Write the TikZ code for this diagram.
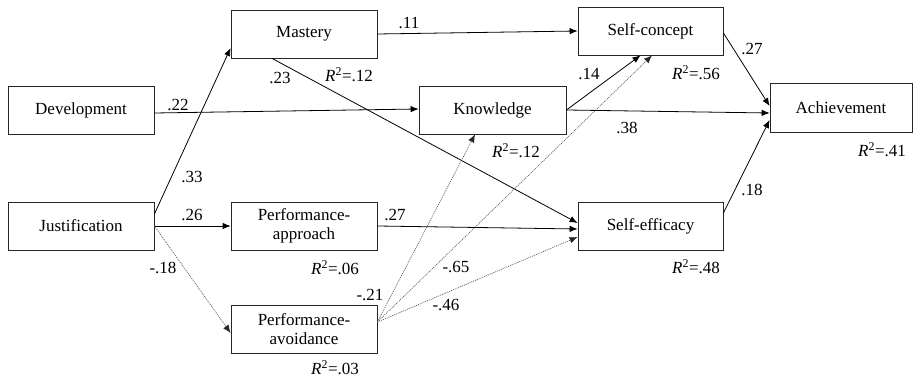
\documentclass[tikz,border=0pt]{standalone}
\usepackage{fontspec}
\setmainfont{Liberation Serif}
\usetikzlibrary{arrows.meta}
\begin{document}
\begin{tikzpicture}[x=1pt,y=-1pt,
  box/.style={draw=black!85, line width=0.8pt, minimum width=146pt, minimum height=48pt, inner sep=0pt, align=center, font=\fontsize{17}{19}\selectfont},
  lbl/.style={font=\fontsize{17}{19}\selectfont, inner sep=0pt},
  path/.style={line width=0.8pt, -{Latex[length=8pt,width=6.5pt]}},
  weak/.style={line width=0.7pt, draw=black!65, dash pattern=on 1pt off 1pt, -{Latex[length=8pt,width=6.5pt,color=black!85]}}]
\useasboundingbox (0,0) rectangle (913,379);
\node[box] (mas) at (304,34) {Mastery};
\node[box] (dev) at (81,110) {Development};
\node[box, minimum width=147pt] (kn) at (492.5,110) {Knowledge};
\node[box, minimum width=145pt] (sc) at (650.5,31) {Self-concept};
\node[box, minimum width=142pt, minimum height=49pt] (ach) at (841,107.5) {Achievement};
\node[box] (jus) at (81,226) {Justification};
\node[box] (pa) at (304,226) {Performance-\\approach};
\node[box] (pv) at (304,329) {Performance-\\avoidance};
\node[box, minimum width=145pt] (se) at (650.5,226) {Self-efficacy};
% solid paths
\draw[path] (mas.east) -- (sc.west);
\draw[path] ([xshift=-32pt]mas.south) -- ([yshift=3pt]se.west);
\draw[path] ([yshift=-3pt]dev.east) -- ([yshift=1pt]kn.west);
\draw[path] ([yshift=12pt]jus.east) -- ([yshift=-14pt]mas.west);
\draw[path] (jus.east) -- (pa.west);
\draw[path] (kn.east) -- ([xshift=-10pt]sc.south);
\draw[path] (kn.east) -- ([yshift=-5.5pt]ach.west);
\draw[path] ([yshift=-2pt]sc.east) -- ([yshift=1.5pt]ach.west);
\draw[path] ([yshift=13pt]se.east) -- ([yshift=-12.5pt]ach.west);
\draw[path] (pa.east) -- ([yshift=-3pt]se.west);
% dotted paths
\draw[weak] (jus.east) -- ([yshift=-4pt]pv.west);
\draw[weak] ([yshift=7pt]pv.east) -- ([xshift=-17.5pt]kn.south);
\draw[weak] ([yshift=7pt]pv.east) -- ([xshift=1.5pt]sc.south);
\draw[weak] ([yshift=7pt]pv.east) -- ([yshift=-11pt]se.west);
% coefficients
\node[lbl] (l11) at (409,23) {.11};
\node[lbl] (l23) at (280,78) {.23};
\node[lbl] (l22) at (178,105) {.22};
\node[lbl] (l33) at (192,177) {.33};
\node[lbl] (l14) at (589,74) {.14};
\node[lbl] (l38) at (627,128) {.38};
\node[lbl] (l27a) at (752,49) {.27};
\node[lbl] (l18) at (752,190) {.18};
\node[lbl] (l26) at (192,215) {.26};
\node[lbl] (l27b) at (395,215) {.27};
\node[lbl] (lm18) at (163,268) {-.18};
\node[lbl] (lm21) at (370,295) {-.21};
\node[lbl] (lm65) at (456,267) {-.65};
\node[lbl] (lm46) at (446,305) {-.46};
% R squared
\node[lbl] (rm) at (349,75) {\textit{R}\textsuperscript{2}=.12};
\node[lbl] (rk) at (516,151) {\textit{R}\textsuperscript{2}=.12};
\node[lbl] (rsc) at (696,73) {\textit{R}\textsuperscript{2}=.56};
\node[lbl] (rach) at (882,150) {\textit{R}\textsuperscript{2}=.41};
\node[lbl] (rpa) at (335,268) {\textit{R}\textsuperscript{2}=.06};
\node[lbl] (rpv) at (335,368) {\textit{R}\textsuperscript{2}=.03};
\node[lbl] (rse) at (696,267) {\textit{R}\textsuperscript{2}=.48};
\end{tikzpicture}
\end{document}
